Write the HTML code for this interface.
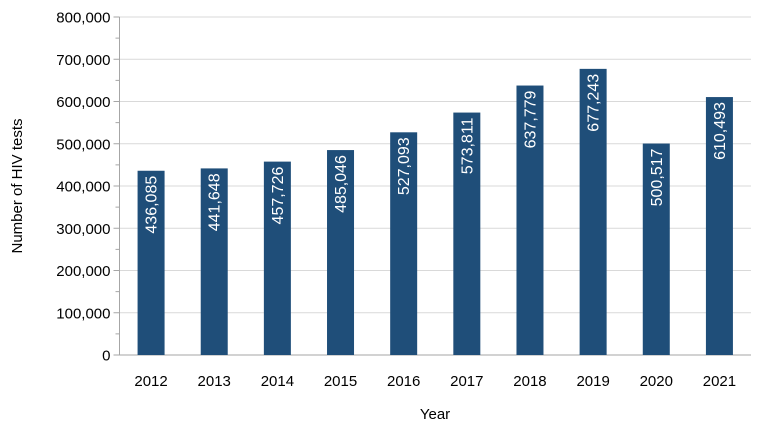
<!DOCTYPE html>
<html><head><meta charset="utf-8"><style>
body{margin:0;background:#fff;}
svg{display:block;font-family:"Liberation Sans",sans-serif;}
</style></head><body>
<svg id="chart" width="765" height="431"></svg>
<script>
const years=["2012","2013","2014","2015","2016","2017","2018","2019","2020","2021"];
const tests=[436085,441648,457726,485046,527093,573811,637779,677243,500517,610493];
const yTicks=[0,100000,200000,300000,400000,500000,600000,700000,800000];
const NS="http://www.w3.org/2000/svg";
const svg=document.getElementById('chart');
const x0=119.5,x1=751,y0=355,y1=17,yMax=800000;
const band=(x1-x0)/years.length;
const yS=v=>y0-(v/yMax)*(y0-y1);
const xS=i=>x0+band*(i+0.5);
function mk(t,a,txt){const e=document.createElementNS(NS,t);for(const k in a)e.setAttribute(k,a[k]);if(txt!==undefined)e.textContent=txt;svg.appendChild(e);return e;}
const fmt=v=>v.toLocaleString('en-US');
yTicks.forEach((v,i)=>{
  const y=yS(v);
  if(v>0){const g=mk('line',{x1:x0,x2:x1,y1:y,y2:y,stroke:'#d9d9d9','stroke-width':1});
  
  }
  const t=mk('line',{x1:x0-6,x2:x0,y1:y,y2:y,stroke:'#a6a6a6'});
  
  
  if(i<yTicks.length-1){const ym=yS((v+yTicks[i+1])/2);
    const m=mk('line',{x1:x0-4,x2:x0,y1:ym,y2:ym,stroke:'#a6a6a6'});
    
    }
  const l=mk('text',{x:x0-9,y:y+5.5,'text-anchor':'end','font-size':15,fill:'#000'},fmt(v));
  
  
});
const ax=mk('line',{x1:x0,x2:x0,y1:y1,y2:y0,stroke:'#a6a6a6'});


const bx=mk('line',{x1:x0,x2:x1,y1:y0,y2:y0,stroke:'#a6a6a6'});


const bw=27;
tests.forEach((v,i)=>{
  const cx=xS(i),y=yS(v);
  const r=mk('rect',{x:cx-bw/2,y:y,width:bw,height:y0-y,fill:'#1f4e79'});
  
  
  const t=mk('text',{x:0,y:0,'text-anchor':'end','font-size':16,fill:'#fff',transform:`translate(${cx+5.5},${y+5}) rotate(-90)`},fmt(v));
  
  
  const xl=mk('text',{x:cx,y:386,'text-anchor':'middle','font-size':15,fill:'#000'},years[i]);
  
  
});
const xt=mk('text',{x:435,y:419,'text-anchor':'middle','font-size':15,fill:'#000'},'Year');


const yt=mk('text',{x:0,y:0,'text-anchor':'middle','font-size':15,fill:'#000',transform:'translate(22,186) rotate(-90)'},'Number of HIV tests');


</script>
</body></html>
